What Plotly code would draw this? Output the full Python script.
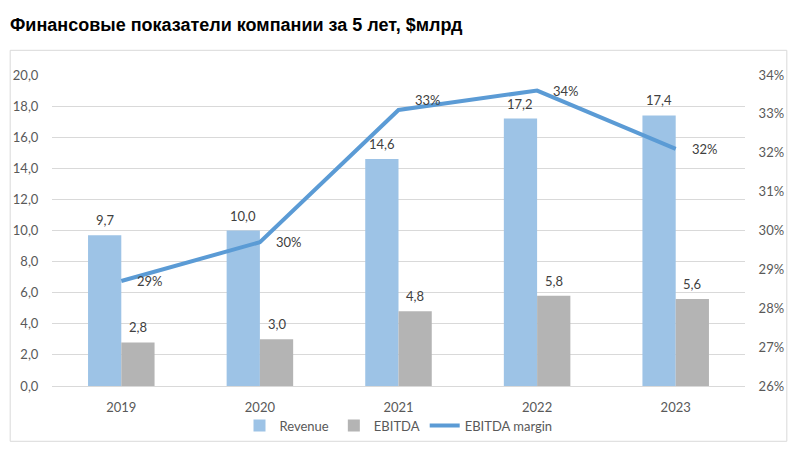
import plotly.graph_objects as go

years = ["2019", "2020", "2021", "2022", "2023"]
revenue = [9.7, 10.0, 14.6, 17.2, 17.4]
ebitda = [2.8, 3.0, 4.8, 5.8, 5.6]
margin = [28.7, 29.7, 33.1, 33.6, 32.1]  # %
margin_labels = ["29%", "30%", "33%", "34%", "32%"]

title_text = "Финансовые показатели компании за 5 лет, $млрд"

C_REV = "#9DC3E6"
C_EB = "#B4B4B4"
C_LINE = "#5B9BD5"
C_TXT = "#595959"
C_LBL = "#404040"
C_GRID = "#D9D9D9"
FONT = "Lato"
CLEAR = "rgba(0,0,0,0)"

fig = go.Figure()
fig.add_trace(go.Bar(name="Revenue", x=years, y=revenue, marker_color=C_REV,
                     marker_line_width=0, yaxis="y"))
fig.add_trace(go.Bar(name="EBITDA", x=years, y=ebitda, marker_color=C_EB,
                     marker_line_width=0, yaxis="y"))
fig.add_trace(go.Scatter(name="EBITDA margin", x=years, y=margin, mode="lines",
                         line=dict(color=C_LINE, width=4), yaxis="y2"))

ann = []
bar_half = 16.7
for i, yr in enumerate(years):
    # category axis: position by category index
    ann.append(dict(x=i, y=revenue[i], xref="x", yref="y", xshift=-bar_half, yshift=5,
                    text=f"{revenue[i]:.1f}".replace(".", ","), showarrow=False,
                    yanchor="bottom", xanchor="center",
                    font=dict(family=FONT, size=13, color=C_LBL)))
    ann.append(dict(x=i, y=ebitda[i], xref="x", yref="y", xshift=bar_half, yshift=5,
                    text=f"{ebitda[i]:.1f}".replace(".", ","), showarrow=False,
                    yanchor="bottom", xanchor="center",
                    font=dict(family=FONT, size=13, color=C_LBL)))
    ys = 10 if i == 2 else 0
    ann.append(dict(x=i, y=margin[i], xref="x", yref="y2", xshift=14, yshift=ys,
                    text=margin_labels[i], showarrow=False,
                    yanchor="middle", xanchor="left",
                    font=dict(family=FONT, size=13, color=C_LBL)))

fig.update_layout(
    width=796, height=452,
    margin=dict(l=52, r=48, t=75, b=62),
    paper_bgcolor="white", plot_bgcolor="white",
    separators=", ",
    barmode="group", bargap=0.52, bargroupgap=0,
    title=dict(text=f"<b>{title_text}</b>", xref="container", yref="container",
               x=10/796, y=1-25/452, xanchor="left", yanchor="middle",
               font=dict(family="Liberation Sans, Arial", size=18, color="black")),
    xaxis=dict(type="category", range=[-0.5, len(years) - 0.5], autorange=False,
               showgrid=False, showline=True, linecolor=C_GRID, linewidth=1,
               ticks="outside", ticklen=9, tickcolor=CLEAR,
               tickfont=dict(family=FONT, size=13, color=C_TXT)),
    yaxis=dict(range=[0, 20], dtick=2, tickformat=".1f", showgrid=True,
               gridcolor=C_GRID, gridwidth=1, zeroline=False, showline=False,
               ticks="outside", ticklen=10, tickcolor=CLEAR,
               tickfont=dict(family=FONT, size=13, color=C_TXT)),
    yaxis2=dict(range=[26, 34], dtick=1, ticksuffix="%", overlaying="y", side="right",
                showgrid=False, zeroline=False, showline=False,
                ticks="outside", ticklen=10, tickcolor=CLEAR,
                tickfont=dict(family=FONT, size=13, color=C_TXT)),
    legend=dict(orientation="h", x=0.5, xanchor="center", y=(390-430)/315, yanchor="middle",
                bgcolor=CLEAR,
                font=dict(family=FONT, size=13, color=C_TXT), traceorder="normal"),
    annotations=ann,
    shapes=[dict(type="rect", xref="paper", yref="paper",
                 x0=(10-52)/696, x1=(790-52)/696, y0=(390-446)/315, y1=(390-50)/315,
                 line=dict(color=C_GRID, width=1), fillcolor=CLEAR, layer="below")],
)

fig.write_html("out.html", config={"displayModeBar": False},
               post_script="document.body.style.margin='0';document.body.style.padding='0';")
